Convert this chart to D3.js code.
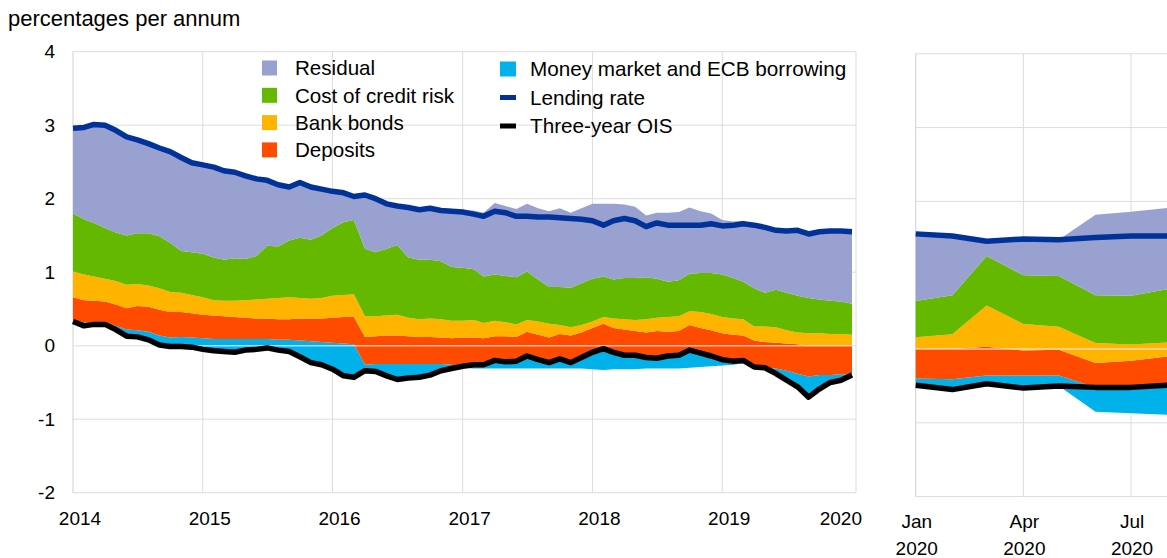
<!DOCTYPE html>
<html>
<head>
<meta charset="utf-8">
<script src="https://cdn.jsdelivr.net/npm/d3@7"></script>
<style>
body { margin: 0; background: #fff; }
text { font-family: "Liberation Sans", Arial, sans-serif; fill: #000; }
</style>
</head>
<body>
<svg id="chart"></svg>
<script>
// Monthly decomposition, Jan 2014 - Jan 2020
const ois = [0.33,0.27,0.29,0.29,0.22,0.13,0.12,0.08,0.01,-0.01,
  -0.01,-0.02,-0.05,-0.07,-0.08,-0.09,-0.06,-0.05,-0.03,-0.06,
  -0.08,-0.15,-0.23,-0.26,-0.32,-0.41,-0.43,-0.34,-0.35,-0.41,
  -0.46,-0.44,-0.43,-0.40,-0.34,-0.31,-0.28,-0.26,-0.26,-0.20,
  -0.22,-0.21,-0.14,-0.19,-0.23,-0.18,-0.23,-0.16,-0.09,-0.04,
  -0.09,-0.13,-0.13,-0.16,-0.17,-0.14,-0.13,-0.06,-0.10,-0.14,
  -0.19,-0.21,-0.20,-0.29,-0.30,-0.38,-0.47,-0.56,-0.70,-0.59,
  -0.50,-0.47,-0.40];
const moneyMarket = [0.02,0.05,0.03,0.03,0.05,0.09,0.09,0.11,0.13,0.12,
  0.13,0.13,0.15,0.16,0.17,0.18,0.15,0.14,0.12,0.14,
  0.16,0.22,0.29,0.31,0.36,0.44,0.45,0.08,0.10,0.16,
  0.21,0.19,0.18,0.15,0.09,0.05,-0.02,-0.05,-0.05,-0.11,
  -0.09,-0.10,-0.17,-0.12,-0.08,-0.13,-0.08,-0.15,-0.23,-0.29,
  -0.23,-0.19,-0.19,-0.15,-0.14,-0.17,-0.18,-0.24,-0.19,-0.14,
  -0.08,-0.05,-0.04,0.00,0.00,0.07,0.13,0.18,0.28,0.19,
  0.10,0.08,0.01];
const deposits = [0.31,0.30,0.29,0.28,0.29,0.29,0.33,0.34,0.35,0.35,
  0.34,0.33,0.32,0.32,0.31,0.30,0.29,0.28,0.28,0.28,
  0.28,0.30,0.31,0.32,0.34,0.36,0.37,0.38,0.38,0.39,
  0.39,0.38,0.37,0.37,0.36,0.36,0.39,0.37,0.36,0.33,
  0.35,0.33,0.33,0.34,0.34,0.34,0.37,0.34,0.33,0.34,
  0.33,0.35,0.33,0.34,0.37,0.33,0.33,0.34,0.34,0.35,
  0.36,0.36,0.34,0.36,0.35,0.35,0.37,0.40,0.42,0.40,
  0.40,0.39,0.39];
const bankBonds = [0.35,0.35,0.33,0.31,0.32,0.32,0.30,0.29,0.29,0.27,
  0.26,0.25,0.24,0.21,0.21,0.22,0.24,0.26,0.27,0.29,
  0.30,0.28,0.27,0.28,0.30,0.30,0.31,0.28,0.27,0.27,
  0.28,0.25,0.24,0.25,0.25,0.24,0.23,0.24,0.21,0.21,
  0.19,0.17,0.16,0.18,0.19,0.12,0.11,0.10,0.09,0.09,
  0.13,0.14,0.15,0.18,0.18,0.20,0.20,0.19,0.22,0.22,
  0.22,0.22,0.22,0.19,0.21,0.21,0.18,0.16,0.17,0.17,
  0.16,0.16,0.15];
const creditRisk = [0.79,0.75,0.73,0.69,0.66,0.67,0.69,0.71,0.71,0.67,
  0.57,0.58,0.59,0.58,0.56,0.58,0.56,0.59,0.72,0.70,
  0.77,0.82,0.80,0.85,0.92,0.99,1.01,0.92,0.87,0.91,
  0.95,0.82,0.81,0.80,0.79,0.73,0.72,0.69,0.63,0.63,
  0.63,0.64,0.66,0.57,0.50,0.52,0.54,0.57,0.58,0.55,
  0.53,0.56,0.57,0.57,0.53,0.48,0.49,0.51,0.53,0.56,
  0.58,0.55,0.51,0.52,0.46,0.51,0.51,0.50,0.48,0.46,
  0.45,0.44,0.42];
const residual = [1.16,1.25,1.34,1.40,1.39,1.34,1.27,1.22,1.20,1.24,
  1.27,1.22,1.21,1.23,1.21,1.17,1.13,1.05,0.89,0.84,
  0.73,0.75,0.72,0.63,0.50,0.40,0.32,0.73,0.73,0.61,
  0.53,0.68,0.68,0.70,0.69,0.76,0.78,0.80,0.87,0.97,
  0.95,0.93,0.92,0.97,1.03,1.07,1.02,1.02,1.02,0.99,
  1.03,1.00,0.97,0.84,0.90,0.94,0.93,0.90,0.84,0.81,
  0.74,0.77,0.83,0.86,0.89,0.81,0.84,0.89,0.87,0.92,
  0.95,0.96,0.98];
const lendingRate = [2.96,2.97,3.01,3.00,2.93,2.84,2.80,2.75,2.69,2.64,
  2.56,2.49,2.46,2.43,2.38,2.36,2.31,2.27,2.25,2.19,
  2.16,2.22,2.16,2.13,2.10,2.08,2.03,2.05,2.00,1.93,
  1.90,1.88,1.85,1.87,1.84,1.83,1.82,1.79,1.76,1.83,
  1.81,1.76,1.76,1.75,1.75,1.74,1.73,1.72,1.70,1.64,
  1.70,1.73,1.70,1.62,1.67,1.64,1.64,1.64,1.64,1.66,
  1.63,1.64,1.66,1.64,1.61,1.57,1.56,1.57,1.52,1.55,
  1.56,1.56,1.55];

// 2020 panel, Jan - Aug
const ois2020 = [-0.49,-0.55,-0.47,-0.53,-0.50,-0.52,-0.52,-0.49];
const moneyMarket2020 = [0.09,0.14,0.11,0.17,0.14,-0.33,-0.35,-0.40];
const deposits2020 = [0.40,0.41,0.39,0.34,0.35,0.33,0.36,0.39];
const bankBonds2020 = [0.16,0.20,0.56,0.36,0.31,0.27,0.22,0.19];
const creditRisk2020 = [0.49,0.53,0.67,0.66,0.69,0.65,0.66,0.72];
const residual2020 = [0.91,0.80,0.20,0.49,0.49,1.09,1.14,1.10];
const lendingRate2020 = [1.56,1.53,1.46,1.49,1.48,1.51,1.53,1.53];

const yTicks = [-2, -1, 0, 1, 2, 3, 4];
const monthTickLabels = ["Jan", "Apr", "Jul"];

// Series names and colours
const keys = ["mm", "dep", "bonds", "credit", "resid"];
const colours = {mm: "#00B1EA", dep: "#FF4B00", bonds: "#FFB400", credit: "#65B800", resid: "#98A1D0"};
const lendingColour = "#003299";

const Width = 1167, Height = 558;
const svg = d3.select("#chart").attr("width", Width).attr("height", Height);

// Title
svg.append("text").attr("x", 8).attr("y", 18).attr("dy", "0.35em")
  .style("font-size", "22px").text("percentages per annum");

function buildRows(dates, mm, dep, bonds, credit, resid) {
  return dates.map((d, i) => ({date: d, mm: mm[i], dep: dep[i], bonds: bonds[i], credit: credit[i], resid: resid[i]}));
}

// diverging stack that starts from the OIS line instead of zero
function offsetFromBase(base) {
  return function(series, order) {
    d3.stackOffsetDiverging(series, order);
    series.forEach(s => s.forEach((p, j) => { p[0] += base[j]; p[1] += base[j]; }));
  };
}

function drawPanel(p) {
  const g = svg.append("g");
  const [x0, x1] = [p.left, p.right];
  const grid = g.append("g").attr("stroke", "#dcdcdc").attr("stroke-width", 1);

  // horizontal gridlines
  grid.selectAll("line.h").data(yTicks).enter().append("line")
    .attr("x1", x0).attr("x2", x1)
    .attr("y1", d => p.y(d)).attr("y2", d => p.y(d));
  // vertical gridlines
  grid.selectAll("line.v").data(p.gridDates).enter().append("line")
    .attr("x1", d => p.x(d)).attr("x2", d => p.x(d))
    .attr("y1", p.y(4)).attr("y2", p.y(-2));
  grid.append("line").attr("x1", x0).attr("x2", x0).attr("y1", p.y(4)).attr("y2", p.y(-2)).attr("stroke", "#cfcfcf");
  grid.append("line").attr("x1", x1).attr("x2", x1).attr("y1", p.y(4)).attr("y2", p.y(-2));

  const stack = d3.stack().keys(keys).offset(offsetFromBase(p.ois));
  const layers = stack(p.rows);

  const area = d3.area()
    .x((d, i) => p.x(p.rows[i].date))
    .y0(d => p.y(d[0]))
    .y1(d => p.y(d[1]));

  g.selectAll("path.layer").data(layers).enter().append("path")
    .attr("fill", d => colours[d.key])
    .attr("d", area);

  // zero line shows through the areas
  g.append("line").attr("x1", x0).attr("x2", x1)
    .attr("y1", p.y(0)).attr("y2", p.y(0))
    .attr("stroke", "#e9e9e9").attr("stroke-opacity", 0.75).attr("stroke-width", 1.5);

  const line = d3.line().x((d, i) => p.x(p.rows[i].date)).y(d => p.y(d));
  g.append("path").attr("fill", "none").attr("stroke", lendingColour)
    .attr("stroke-width", 5.5).attr("stroke-linejoin", "round").attr("d", line(p.lending));
  g.append("path").attr("fill", "none").attr("stroke", "#000")
    .attr("stroke-width", 5.5).attr("stroke-linejoin", "round").attr("d", line(p.ois));
  return g;
}

// Left panel
const dates = d3.timeMonth.range(new Date(2014, 0, 1), new Date(2020, 1, 1));
const xLeft = d3.scaleTime().domain([new Date(2014, 0, 1), new Date(2020, 0, 1)]).range([73, 852]);
const yLeft = d3.scaleLinear().domain([-2, 4]).range([492.7, 51.7]);
const yearDates = d3.timeYear.range(new Date(2014, 0, 1), new Date(2020, 0, 1));

drawPanel({
  left: 73, right: 856, x: xLeft, y: yLeft,
  gridDates: yearDates.slice(1),
  rows: buildRows(dates, moneyMarket, deposits, bankBonds, creditRisk, residual),
  ois: ois, lending: lendingRate
});

svg.selectAll("text.ytick").data(yTicks).enter().append("text")
  .attr("x", 55).attr("y", d => yLeft(d)).attr("dy", "0.35em")
  .attr("text-anchor", "end").style("font-size", "19px")
  .text(d => d);

const yearLabels = yearDates.concat([new Date(2020, 0, 1)]);
svg.selectAll("text.xtick").data(yearLabels).enter().append("text")
  .attr("x", (d, i) => i < yearLabels.length - 1 ? xLeft(d) + 7 : 862)
  .attr("y", 518).attr("dy", "0.35em")
  .attr("text-anchor", (d, i) => i < yearLabels.length - 1 ? "middle" : "end")
  .style("font-size", "19px")
  .text(d => d3.timeFormat("%Y")(d));

// Right panel (2020)
const dates2020 = d3.timeMonth.range(new Date(2020, 0, 1), new Date(2020, 8, 1));
const xRight = d3.scaleTime().domain([new Date(2020, 0, 1), new Date(2020, 7, 1)]).range([915.7, 1167.7]);
const yRight = d3.scaleLinear().domain([-2, 4]).range([496.6, 53.8]);
const quarterDates = [new Date(2020, 0, 1), new Date(2020, 3, 1), new Date(2020, 6, 1)];

drawPanel({
  left: 915.7, right: 1200, x: xRight, y: yRight,
  gridDates: quarterDates.slice(1),
  rows: buildRows(dates2020, moneyMarket2020, deposits2020, bankBonds2020, creditRisk2020, residual2020),
  ois: ois2020, lending: lendingRate2020
});

const qLabels = svg.selectAll("g.qtick").data(quarterDates).enter().append("g")
  .attr("transform", d => `translate(${xRight(d) + 1},0)`);
qLabels.append("text").attr("y", 521).attr("dy", "0.35em").attr("text-anchor", "middle")
  .style("font-size", "19px").text((d, i) => monthTickLabels[i]);
qLabels.append("text").attr("y", 548).attr("dy", "0.35em").attr("text-anchor", "middle")
  .style("font-size", "19px").text(d => d3.timeFormat("%Y")(d));

// Legend
const legendLeft = [
  {label: "Residual", key: "resid"},
  {label: "Cost of credit risk", key: "credit"},
  {label: "Bank bonds", key: "bonds"},
  {label: "Deposits", key: "dep"}
];
const legendRight = [
  {label: "Money market and ECB borrowing", colour: colours.mm, type: "box"},
  {label: "Lending rate", colour: lendingColour, type: "line"},
  {label: "Three-year OIS", colour: "#000", type: "line"}
];

const legL = svg.selectAll("g.legL").data(legendLeft).enter().append("g")
  .attr("transform", (d, i) => `translate(262,${68 + i * 27.3})`);
legL.append("rect").attr("x", 0).attr("y", -7.5).attr("width", 15).attr("height", 15)
  .attr("fill", d => colours[d.key]);
legL.append("text").attr("x", 33).attr("dy", "0.35em").style("font-size", "20.6px").text(d => d.label);

const legR = svg.selectAll("g.legR").data(legendRight).enter().append("g")
  .attr("transform", (d, i) => `translate(500,${69 + i * 28.5})`);
legR.append("rect").attr("x", 0)
  .attr("y", d => d.type === "box" ? -7.5 : -2.5)
  .attr("width", 16)
  .attr("height", d => d.type === "box" ? 15 : 5)
  .attr("fill", d => d.colour);
legR.append("text").attr("x", 30).attr("dy", "0.35em").style("font-size", "20.7px").text(d => d.label);
</script>
</body>
</html>
